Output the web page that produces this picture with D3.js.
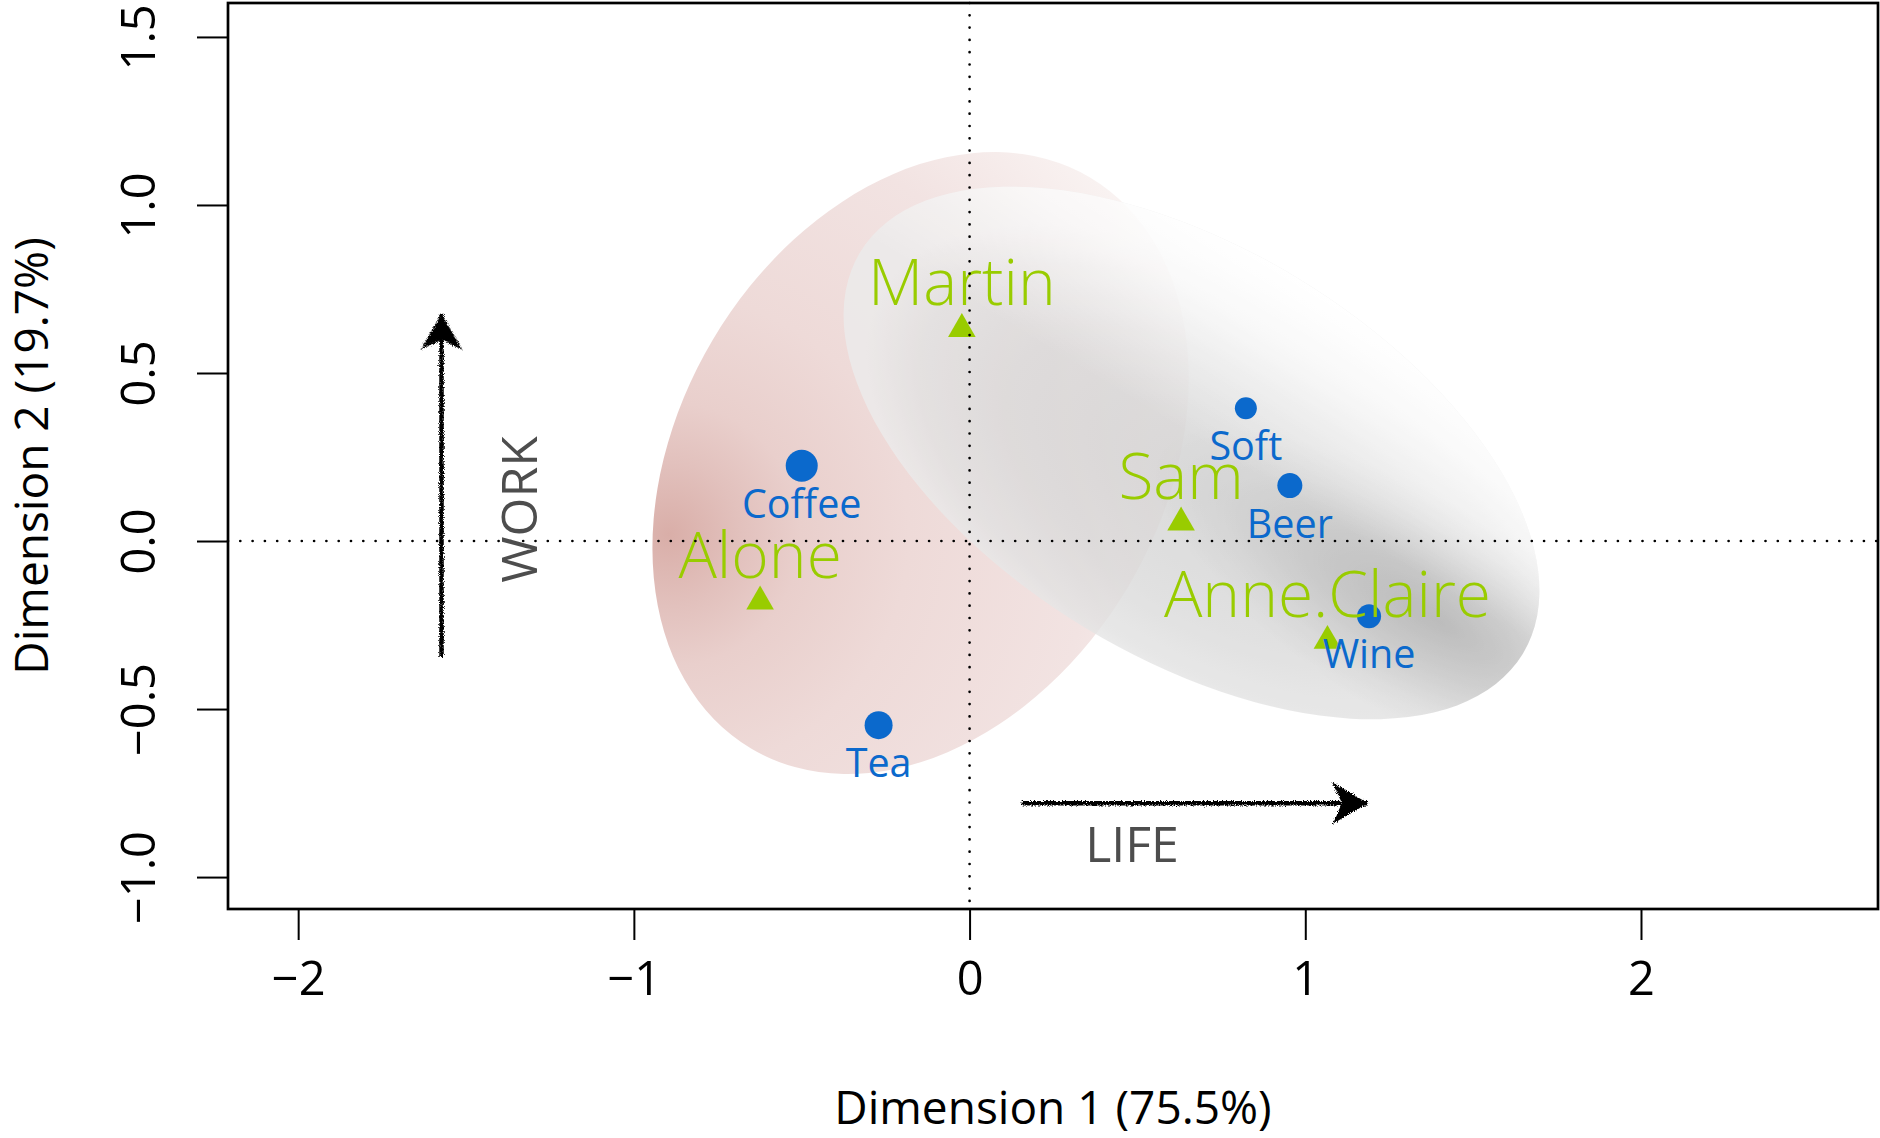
<!DOCTYPE html>
<html>
<head>
<meta charset="utf-8">
<script src="https://cdn.jsdelivr.net/npm/d3@7"></script>
<style>
body { margin: 0; background: #fff; }
text { font-family: "Open Sans", sans-serif; }
</style>
</head>
<body>
<script>

/******** Data **************************/

// row points (people)
var people = ["Martin", "Sam", "Alone", "Anne.Claire"];
var peopleDim1 = [-0.023, 0.630, -0.624, 1.066];
var peopleDim2 = [0.631, 0.055, -0.180, -0.297];

// column points (drinks), with relative point size
var drinks = ["Coffee", "Tea", "Soft", "Beer", "Wine"];
var drinksDim1 = [-0.500, -0.271, 0.823, 0.954, 1.190];
var drinksDim2 = [0.224, -0.548, 0.395, 0.165, -0.224];
var drinksCex = [1.6, 1.4, 1.1, 1.25, 1.2];

var xTicks = [-2, -1, 0, 1, 2];
var yTicks = [-1.0, -0.5, 0.0, 0.5, 1.0, 1.5];
var xTitle = "Dimension 1 (75.5%)";
var yTitle = "Dimension 2 (19.7%)";

// confidence ellipses: centre, semi axes, angle of major axis (degrees)
var ellipseIds = ["pink", "grey"];
var ellipseCx = [-0.146, 0.661];
var ellipseCy = [0.232, 0.262];
var ellipseA = [0.989, 1.154];
var ellipseB = [0.719, 0.609];
var ellipseAngle = [59.3, -31.2];

// annotation arrows (data units)
var arrowLabels = ["WORK", "LIFE"];
var arrowFrom = [[-1.573, -0.345], [0.155, -0.780]];
var arrowTo = [[-1.573, 0.676], [1.187, -0.780]];

/******** Setup *********/

var width = 1880, height = 1138;
var pLeft = 228, pRight = 1878, pTop = 3, pBottom = 909;

var x = d3.scaleLinear().domain([-2.209, 2.706]).range([pLeft, pRight]);
var y = d3.scaleLinear().domain([-1.095, 1.601]).range([pBottom, pTop]);

var svg = d3.select("body")
  .append("svg")
    .attr("width", width)
    .attr("height", height);

var defs = svg.append("defs");

function addStops(grad, stops){
  stops.forEach(function(s){
    grad.append("stop")
      .attr("offset", s[0])
      .attr("stop-color", s[1])
      .attr("stop-opacity", s[2] == null ? 1 : s[2]);
  });
}

var rough = defs.append("filter")
    .attr("id", "rough")
    .attr("filterUnits", "userSpaceOnUse")
    .attr("x", 0).attr("y", 0)
    .attr("width", width).attr("height", height);
rough.append("feTurbulence")
    .attr("type", "fractalNoise")
    .attr("baseFrequency", 1.1)
    .attr("numOctaves", 2)
    .attr("seed", 7)
    .attr("result", "noise");
rough.append("feDisplacementMap")
    .attr("in", "SourceGraphic")
    .attr("in2", "noise")
    .attr("scale", 5)
    .attr("xChannelSelector", "R")
    .attr("yChannelSelector", "G");

// pink: dark patch on the left edge (near Alone), fading to the top right
addStops(defs.append("radialGradient")
    .attr("id", "pink-fill")
    .attr("gradientUnits", "userSpaceOnUse")
    .attr("cx", -190).attr("cy", -180).attr("r", 600),
  [[0, "#d9aea8"], [0.12, "#e2c1bd"], [0.22, "#e9cfcc"], [0.4, "#eedad8"], [0.7, "#f2e3e2"], [1, "#fbf7f6"]]);

// grey: base shading, a dark streak at the lower right end, white upper side
addStops(defs.append("radialGradient")
    .attr("id", "grey-base")
    .attr("cx", 0.55).attr("cy", 0.55).attr("r", 0.5),
  [[0, "#d2d2d2"], [0.6, "#dadada"], [0.85, "#e2e2e2"], [1, "#ececec"]]);

addStops(defs.append("radialGradient")
    .attr("id", "grey-spot")
    .attr("gradientUnits", "userSpaceOnUse")
    .attr("cx", 0).attr("cy", 0).attr("r", 1)
    .attr("gradientTransform", "translate(300,16) scale(330,110)"),
  [[0, "#000", 0.22], [0.4, "#000", 0.13], [0.75, "#000", 0.04], [1, "#000", 0]]);

addStops(defs.append("linearGradient")
    .attr("id", "grey-light")
    .attr("gradientUnits", "userSpaceOnUse")
    .attr("x1", 0).attr("y1", -205).attr("x2", 0).attr("y2", -15),
  [[0, "#fff", 1], [0.35, "#fff", 0.75], [1, "#fff", 0]]);

/******** Ellipses *********/

var ell = svg.append("g").attr("class", "ellipses")
  .selectAll("g")
    .data(ellipseIds)
    .enter()
    .append("g")
      .attr("transform", function(d, i){
        return "translate(" + x(ellipseCx[i]) + "," + y(ellipseCy[i]) + ") rotate(" + (-ellipseAngle[i]) + ")";
      })
      .attr("opacity", function(d){ return d == "grey" ? 0.8 : 1; });

ell.each(function(d, i){
  var layers = d == "pink" ? ["pink-fill"] : ["grey-base", "grey-spot", "grey-light"];
  var g = d3.select(this);
  layers.forEach(function(id){
    g.append("ellipse")
      .attr("cx", 0).attr("cy", 0)
      .attr("rx", x(ellipseA[i]) - x(0))
      .attr("ry", y(0) - y(ellipseB[i]))
      .attr("fill", "url(#" + id + ")");
  });
});

/******** Points *********/

svg.append("g")
  .selectAll("path")
    .data(people)
    .enter()
    .append("path")
      .attr("d", d3.symbol().type(d3.symbolTriangle).size(330))
      .attr("transform", function(d, i){
        return "translate(" + x(peopleDim1[i]) + "," + y(peopleDim2[i]) + ")";
      })
      .attr("fill", "#99cc00");

svg.append("g")
  .selectAll("circle")
    .data(drinks)
    .enter()
    .append("circle")
      .attr("cx", function(d, i){ return x(drinksDim1[i]); })
      .attr("cy", function(d, i){ return y(drinksDim2[i]); })
      .attr("r", function(d, i){ return 10 * drinksCex[i]; })
      .attr("fill", "#0b69cc");

svg.append("g")
  .selectAll("text")
    .data(people)
    .enter()
    .append("text")
      .attr("x", function(d, i){ return x(peopleDim1[i]); })
      .attr("y", function(d, i){ return y(peopleDim2[i]) - 24; })
      .attr("text-anchor", "middle")
      .attr("font-size", "64px")
      .attr("font-weight", 300)
      .attr("fill", "#99cc00")
      .text(function(d){ return d; });

svg.append("g")
  .selectAll("text")
    .data(drinks)
    .enter()
    .append("text")
      .attr("x", function(d, i){ return x(drinksDim1[i]); })
      .attr("y", function(d, i){ return y(drinksDim2[i]) + 52; })
      .attr("text-anchor", "middle")
      .attr("font-size", "39.5px")
      .attr("fill", "#0b69cc")
      .text(function(d){ return d; });

/******** Dotted origin lines *********/

var origin = svg.append("g");
origin.append("line")
    .attr("x1", x(0)).attr("x2", x(0))
    .attr("y1", pTop).attr("y2", pBottom);
origin.append("line")
    .attr("x1", pLeft).attr("x2", pRight)
    .attr("y1", y(0)).attr("y2", y(0));
origin.selectAll("line")
    .attr("stroke", "#000")
    .attr("stroke-width", 2.7)
    .attr("stroke-linecap", "round")
    .attr("stroke-dasharray", "0,12.3");

/******** Arrows *********/

var arrows = svg.append("g")
    .attr("filter", "url(#rough)")
  .selectAll("g")
    .data(arrowLabels)
    .enter()
    .append("g");

arrows.append("line")
    .attr("x1", function(d, i){ return x(arrowFrom[i][0]); })
    .attr("y1", function(d, i){ return y(arrowFrom[i][1]); })
    .attr("x2", function(d, i){ return x(arrowTo[i][0]); })
    .attr("y2", function(d, i){ return y(arrowTo[i][1]); })
    .attr("stroke", "#000")
    .attr("stroke-width", 4.5);

arrows.append("path")
    .attr("d", "M0,0L-36,-21L-26,0L-36,21Z")
    .attr("fill", "#000")
    .attr("transform", function(d, i){
      var dx = x(arrowTo[i][0]) - x(arrowFrom[i][0]);
      var dy = y(arrowTo[i][1]) - y(arrowFrom[i][1]);
      var ang = Math.atan2(dy, dx) * 180 / Math.PI;
      return "translate(" + x(arrowTo[i][0]) + "," + y(arrowTo[i][1]) + ") rotate(" + ang + ")";
    });

svg.append("text")
    .attr("transform", "translate(537," + ((y(arrowFrom[0][1]) + y(arrowTo[0][1])) / 2 + 24) + ") rotate(-90)")
    .attr("text-anchor", "middle")
    .attr("font-size", "50px")
    .attr("fill", "#4d4d4d")
    .text(arrowLabels[0]);

svg.append("text")
    .attr("x", 1132)
    .attr("y", 862)
    .attr("text-anchor", "middle")
    .attr("font-size", "50px")
    .attr("fill", "#4d4d4d")
    .text(arrowLabels[1]);

/******** Box and axes *********/

svg.append("rect")
    .attr("x", pLeft).attr("y", pTop)
    .attr("width", pRight - pLeft).attr("height", pBottom - pTop)
    .attr("fill", "none")
    .attr("stroke", "#000")
    .attr("stroke-width", 2.7);

var xAxis = svg.append("g")
    .attr("transform", "translate(0," + pBottom + ")")
    .call(d3.axisBottom(x).tickValues(xTicks).tickSize(31).tickPadding(22)
      .tickFormat(function(d){ return d3.format("")(d).replace("-", "\u2212"); }));

var yAxis = svg.append("g")
    .attr("transform", "translate(" + pLeft + ",0)")
    .call(d3.axisLeft(y).tickValues(yTicks).tickSize(31).tickPadding(0)
      .tickFormat(function(d){ return d3.format(".1f")(d).replace("-", "\u2212"); }));

svg.selectAll(".domain").remove();
svg.selectAll(".tick line").attr("stroke", "#000").attr("stroke-width", 2);
svg.selectAll(".tick text")
    .attr("font-family", "Open Sans, sans-serif")
    .attr("font-size", "47px")
    .attr("fill", "#000");

yAxis.selectAll(".tick text")
    .attr("x", 0)
    .attr("y", 0)
    .attr("dy", 0)
    .attr("text-anchor", "middle")
    .attr("dominant-baseline", "central")
    .attr("transform", "translate(-91,0) rotate(-90)");

svg.append("text")
    .attr("x", (pLeft + pRight) / 2)
    .attr("y", 1124)
    .attr("text-anchor", "middle")
    .attr("font-size", "46px")
    .attr("fill", "#000")
    .text(xTitle);

svg.append("text")
    .attr("transform", "translate(48," + ((pTop + pBottom) / 2) + ") rotate(-90)")
    .attr("text-anchor", "middle")
    .attr("font-size", "46px")
    .attr("fill", "#000")
    .text(yTitle);

</script>
</body>
</html>
